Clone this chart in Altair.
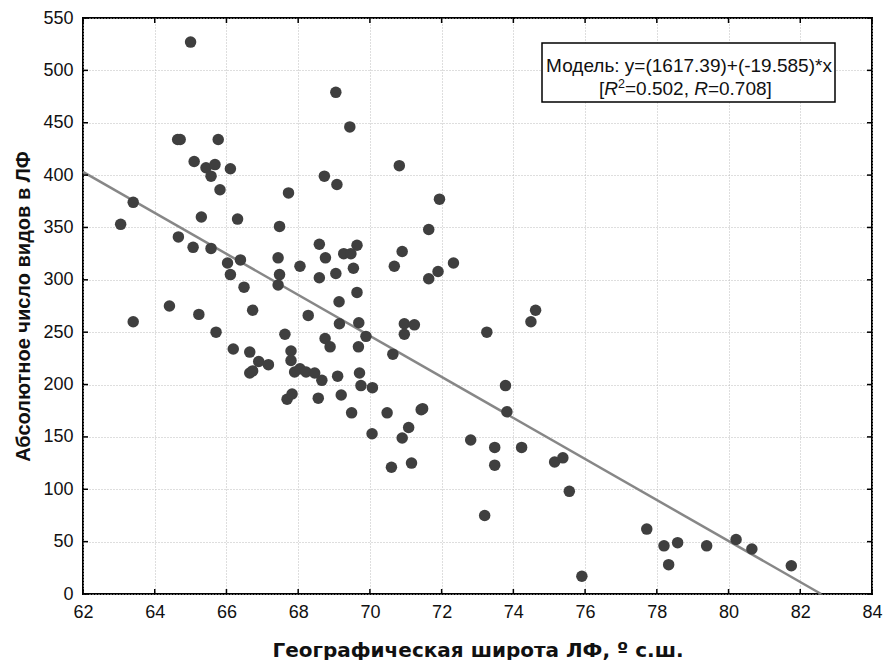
import altair as alt
import pandas as pd

# ---- data ----
latitude = [
    65.00, 69.05, 69.44, 64.64, 64.71, 65.77, 65.10, 65.43, 65.68, 66.11,
    65.57, 68.73, 69.08, 65.82, 67.73, 63.40, 65.30, 66.31, 63.05, 67.48,
    64.66, 65.07, 65.57, 68.59, 69.64, 66.03, 66.39, 67.44, 68.76, 69.27,
    69.47, 68.05, 66.11, 67.48, 68.59, 69.05, 69.54, 66.49, 67.44, 69.64,
    69.14, 64.41, 66.73, 63.40, 65.23, 68.28, 69.15, 69.69, 65.71, 67.63,
    68.75, 68.89, 69.68, 66.19, 66.65, 67.80, 67.80, 66.90, 67.17, 66.65,
    66.73, 67.90, 68.05, 68.22, 68.46, 68.66, 69.10, 69.71, 67.69, 67.83,
    68.56, 69.20, 69.49, 69.75, 69.89, 70.96, 71.24, 70.96, 70.64, 70.07,
    70.48, 71.43, 71.47, 71.08, 70.90, 70.06, 70.60, 71.16, 73.26, 74.62,
    74.49, 73.78, 73.82, 72.81, 73.48, 73.48, 74.23, 75.15, 75.38, 75.56,
    73.20, 75.91, 70.82, 71.94, 71.64, 70.90, 70.68, 71.90, 71.64, 72.33,
    77.72, 78.20, 78.58, 78.33, 79.39, 80.21, 80.65, 81.75,
]
species = [
    527, 479, 446, 434, 434, 434, 413, 407, 410, 406,
    399, 399, 391, 386, 383, 374, 360, 358, 353, 351,
    341, 331, 330, 334, 333, 316, 319, 321, 321, 325,
    325, 313, 305, 305, 302, 306, 311, 293, 295, 288,
    279, 275, 271, 260, 267, 266, 258, 259, 250, 248,
    244, 236, 236, 234, 231, 232, 223, 222, 219, 211,
    213, 212, 215, 212, 211, 204, 208, 211, 186, 191,
    187, 190, 173, 199, 246, 258, 257, 248, 229, 197,
    173, 176, 177, 159, 149, 153, 121, 125, 250, 271,
    260, 199, 174, 147, 140, 123, 140, 126, 130, 98,
    75, 17, 409, 377, 348, 327, 313, 308, 301, 316,
    62, 46, 49, 28, 46, 52, 43, 27,
]
intercept = 1617.39
slope = -19.585
r_squared = 0.502
r_value = 0.708

x_ticks = list(range(62, 85, 2))
y_ticks = list(range(0, 551, 50))
x_domain = [62, 84]
y_domain = [0, 550]

W, H = 789, 576
FONT = "Liberation Sans"

points = pd.DataFrame({"lat": latitude, "n": species})
x_end = -intercept / slope
line_df = pd.DataFrame({
    "lat": [x_domain[0], x_end],
    "n": [intercept + slope * x_domain[0], intercept + slope * x_end],
})
one = pd.DataFrame({"d": [0]})
xt = pd.DataFrame({"v": x_ticks})
yt = pd.DataFrame({"v": y_ticks})

xscale = alt.Scale(domain=x_domain, nice=False, zero=False)
yscale = alt.Scale(domain=y_domain, nice=False)

x_axis = alt.Axis(
    values=x_ticks, title="Географическая широта ЛФ, º с.ш.", grid=True,
    ticks=False, domain=False, labelPadding=9, labelFontSize=18,
    titleFont="DejaVu Sans", titleFontSize=20, titleFontWeight="bold",
    titleY=62, titleBaseline="alphabetic", labelFlush=False,
)
y_axis = alt.Axis(
    values=y_ticks, title="Абсолютное число видов в ЛФ", grid=True,
    ticks=False, domain=False, labelPadding=10, labelFontSize=18,
    titleFontSize=20, titleFontWeight="bold", titleX=-54,
    titleBaseline="alphabetic", labelFlush=False,
)

base_pts = alt.Chart(points).mark_circle(
    size=132, color="#3f3f3f", opacity=1
).encode(
    x=alt.X("lat:Q", scale=xscale, axis=x_axis),
    y=alt.Y("n:Q", scale=yscale, axis=y_axis),
)

reg = alt.Chart(line_df).mark_line(color="#878787", strokeWidth=2.5).encode(
    x=alt.X("lat:Q", scale=xscale), y=alt.Y("n:Q", scale=yscale)
)

TL = 5
tick_style = dict(color="black", strokeWidth=1.5)
ticks_left = alt.Chart(yt).mark_rule(**tick_style).encode(
    y=alt.Y("v:Q", scale=yscale), x=alt.value(0), x2=alt.value(TL))
ticks_right = alt.Chart(yt).mark_rule(**tick_style).encode(
    y=alt.Y("v:Q", scale=yscale), x=alt.value(W), x2=alt.value(W - TL))
ticks_bottom = alt.Chart(xt).mark_rule(**tick_style).encode(
    x=alt.X("v:Q", scale=xscale), y=alt.value(H), y2=alt.value(H - TL))
ticks_top = alt.Chart(xt).mark_rule(**tick_style).encode(
    x=alt.X("v:Q", scale=xscale), y=alt.value(0), y2=alt.value(TL))

box = alt.Chart(one).mark_rect(
    fill="white", stroke="black", strokeWidth=1.5
).encode(x=alt.value(459), x2=alt.value(752), y=alt.value(25), y2=alt.value(84))

TF = 19
txt = dict(font=FONT, fontSize=TF, color="#111111", baseline="alphabetic")
line1 = alt.Chart(one).mark_text(
    text=f"Модель: y=({intercept})+({slope})*x", align="center", **txt
).encode(x=alt.value(606), y=alt.value(54))

x0 = 516
parts = [
    ("[", "normal", TF, 0, 0),
    ("R", "italic", TF, 5.3, 0),
    ("2", "normal", 12.5, 19.0, -7),
    (f"={r_squared}, ", "normal", TF, 26.0, 0),
    ("R", "italic", TF, 95.2, 0),
    (f"={r_value}]", "normal", TF, 108.9, 0),
]
line2_layers = []
for s, style, fs, dx, dy in parts:
    line2_layers.append(
        alt.Chart(one).mark_text(
            text=s, align="left", font=FONT, fontSize=fs, fontStyle=style,
            color="#111111", baseline="alphabetic",
        ).encode(x=alt.value(x0 + dx), y=alt.value(77 + dy))
    )

chart = alt.layer(
    reg, base_pts, ticks_left, ticks_right, ticks_bottom, ticks_top,
    box, line1, *line2_layers,
).properties(
    width=W, height=H,
    autosize=alt.AutoSizeParams(type="none"),
    padding={"left": 83, "top": 18, "right": 11, "bottom": 66},
    background="white",
).configure_view(
    stroke="black", strokeWidth=2
).configure_axis(
    labelFont=FONT, titleFont=FONT, labelColor="#111111", titleColor="#111111",
    gridColor="#bdbdbd", gridDash=[1, 2], gridWidth=1,
)

chart.save("out.html", embed_options={"renderer": "svg", "actions": False})
